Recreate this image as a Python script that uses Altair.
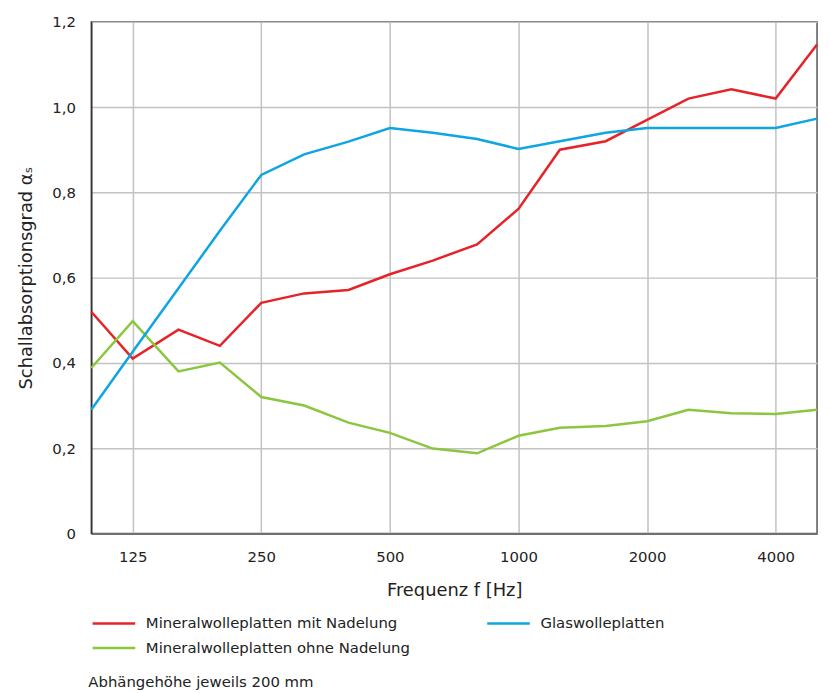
import altair as alt
import pandas as pd

freqs = [100, 125, 160, 200, 250, 315, 400, 500, 630, 800, 1000, 1250, 1600, 2000, 2500, 3150, 4000, 5000]
red = [0.52, 0.41, 0.478, 0.44, 0.541, 0.563, 0.571, 0.608, 0.64, 0.678, 0.761, 0.90, 0.92, 0.97, 1.02, 1.042, 1.02, 1.147]
blue = [0.29, 0.426, 0.575, 0.71, 0.841, 0.889, 0.919, 0.951, 0.94, 0.925, 0.902, 0.92, 0.94, 0.951, 0.951, 0.951, 0.951, 0.973]
green = [0.388, 0.498, 0.38, 0.401, 0.32, 0.30, 0.26, 0.236, 0.199, 0.188, 0.229, 0.248, 0.252, 0.263, 0.29, 0.282, 0.28, 0.29]

# legend order (column-major in a 2-column legend): red, green | blue
series_names = ["Mineralwolleplatten mit Nadelung", "Mineralwolleplatten ohne Nadelung", "Glaswolleplatten"]
series_colors = ["#e52329", "#8cc63f", "#0ea5e0"]
series_values = [red, green, blue]
x_ticks = [125, 250, 500, 1000, 2000, 4000]
y_ticks = [0, 0.2, 0.4, 0.6, 0.8, 1.0, 1.2]
note = "Abhängehöhe jeweils 200 mm"

rows = []
for name, vals in zip(series_names, series_values):
    for f, v in zip(freqs, vals):
        rows.append({"f": f, "a": v, "s": name})
df = pd.DataFrame(rows)

FONT = "DejaVu Sans"

lines = alt.Chart(df).mark_line(strokeWidth=2.5).encode(
    x=alt.X("f:Q", scale=alt.Scale(type="log", domain=[100, 5000], nice=False),
            axis=alt.Axis(values=x_ticks, format="d", title="Frequenz f [Hz]",
                          ticks=False, tickSize=0, labelPadding=16, titlePadding=18,
                          labelFontSize=15, titleFontSize=18, titleFontWeight="normal",
                          labelColor="#222", titleColor="#222", labelFont=FONT, titleFont=FONT,
                          domainColor="#707070", domainWidth=2,
                          gridColor="#c2c2c2", gridWidth=1.5)),
    y=alt.Y("a:Q", scale=alt.Scale(domain=[0, 1.2], nice=False),
            axis=alt.Axis(values=y_ticks, title="Schallabsorptionsgrad αₛ",
                          labelExpr="datum.value == 0 ? '0' : replace(format(datum.value, '.1f'), '.', ',')",
                          ticks=False, tickSize=0, labelPadding=16, titlePadding=16,
                          labelFontSize=15, titleFontSize=18, titleFontWeight="normal",
                          labelColor="#222", titleColor="#222", labelFont=FONT, titleFont=FONT,
                          domainColor="#333", domainWidth=1.5,
                          gridColor="#c2c2c2", gridWidth=1.5)),
    color=alt.Color("s:N", scale=alt.Scale(domain=series_names, range=series_colors),
                    legend=alt.Legend(title=None, orient="none", legendX=0, legendY=598,
                                      columns=2, columnPadding=72, rowPadding=8,
                                      symbolType="M-1,0L5,0", symbolSize=205,
                                      symbolStrokeWidth=2.5, labelFontSize=15,
                                      labelFont=FONT, labelColor="#222", labelLimit=0,
                                      labelOffset=38)),
)

note_layer = alt.Chart(pd.DataFrame({"t": [note]})).mark_text(
    align="left", baseline="middle", fontSize=15, font=FONT, color="#222"
).encode(x=alt.value(-3), y=alt.value(666), text="t:N")

chart = alt.layer(lines, note_layer).properties(
    width=732, height=516,
    padding={"left": 10, "top": 4, "right": 0, "bottom": 2},
).configure_view(stroke="#555", strokeWidth=1.5)

chart.save("out.html", embed_options={"renderer": "svg", "actions": False})
